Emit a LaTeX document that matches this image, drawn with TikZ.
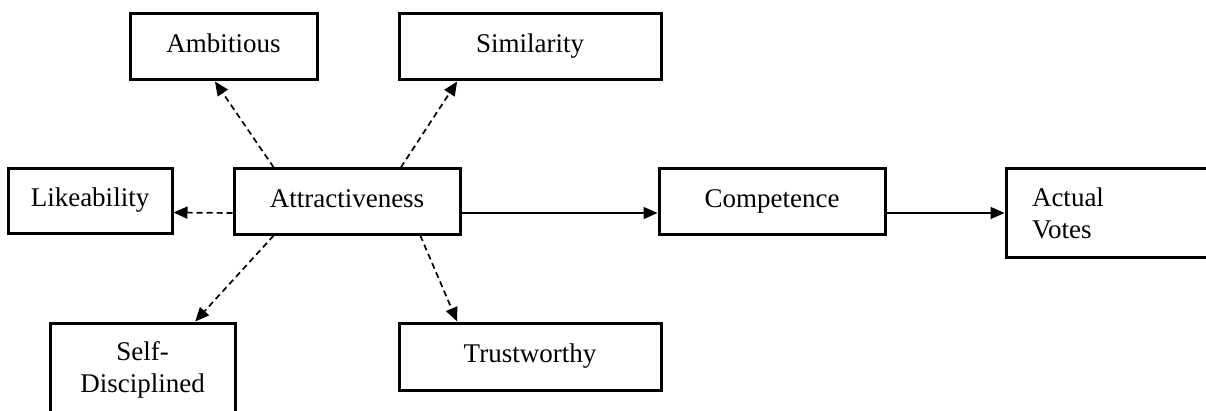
\documentclass[tikz,border=0pt]{standalone}
\usepackage{fontspec}
\setmainfont{Liberation Serif}
\usetikzlibrary{arrows.meta,calc}

\tikzset{
  box/.style={draw, line width=3pt, inner sep=0pt, align=center,
    font=\fontsize{27}{32}\selectfont},
  single/.style={box, text height=18pt, text depth=7pt},
  link/.style={line width=1.7pt, -{Triangle[length=14pt,width=12pt]}},
  maybe/.style={link, dash pattern=on 6pt off 4pt},
}

\begin{document}
\begin{tikzpicture}[x=1pt,y=1pt]
    \useasboundingbox (0,0) rectangle (1206,410);

    \node[single, minimum width=226pt, minimum height=65pt] (attr) at (347,208.5) {Attractiveness};
    \node[single, minimum width=187pt, minimum height=66pt] (amb) at (223.5,363) {Ambitious};
    \node[single, minimum width=262pt, minimum height=66pt] (sim) at (530,363) {Similarity};
    \node[single, minimum width=164pt, minimum height=65pt] (like) at (90,209) {Likeability};
    \node[box, minimum width=185pt, minimum height=94pt] (self) at (142.5,40) {Self-\\Disciplined};
    \node[single, minimum width=262pt, minimum height=67pt] (trust) at (530,53.5) {Trustworthy};
    \node[single, minimum width=226pt, minimum height=65pt] (comp) at (772,208.5) {Competence};
    \node[box, align=left, text width=160pt, inner xsep=26pt, minimum height=88pt] (votes) at (1112,197) {Actual\\Votes};

    \draw[maybe] ($(attr.north west)!0.18!(attr.north east)$) -- ($(amb.south west)!0.455!(amb.south east)$);
    \draw[maybe] ($(attr.north west)!0.735!(attr.north east)$) -- ($(sim.south west)!0.225!(sim.south east)$);
    \draw[maybe] ([yshift=-11.5pt]attr.west) -- ([yshift=-11.5pt]like.east);
    \draw[maybe] ($(attr.south west)!0.18!(attr.south east)$) -- ($(self.north west)!0.78!(self.north east)$);
    \draw[maybe] ($(attr.south west)!0.82!(attr.south east)$) -- ($(trust.north west)!0.225!(trust.north east)$);
    \draw[link] ([yshift=-11.5pt]attr.east) -- ([yshift=-11.5pt]comp.west);
    \draw[link] ([yshift=-11.5pt]comp.east) -- (votes.west);
\end{tikzpicture}
\end{document}
